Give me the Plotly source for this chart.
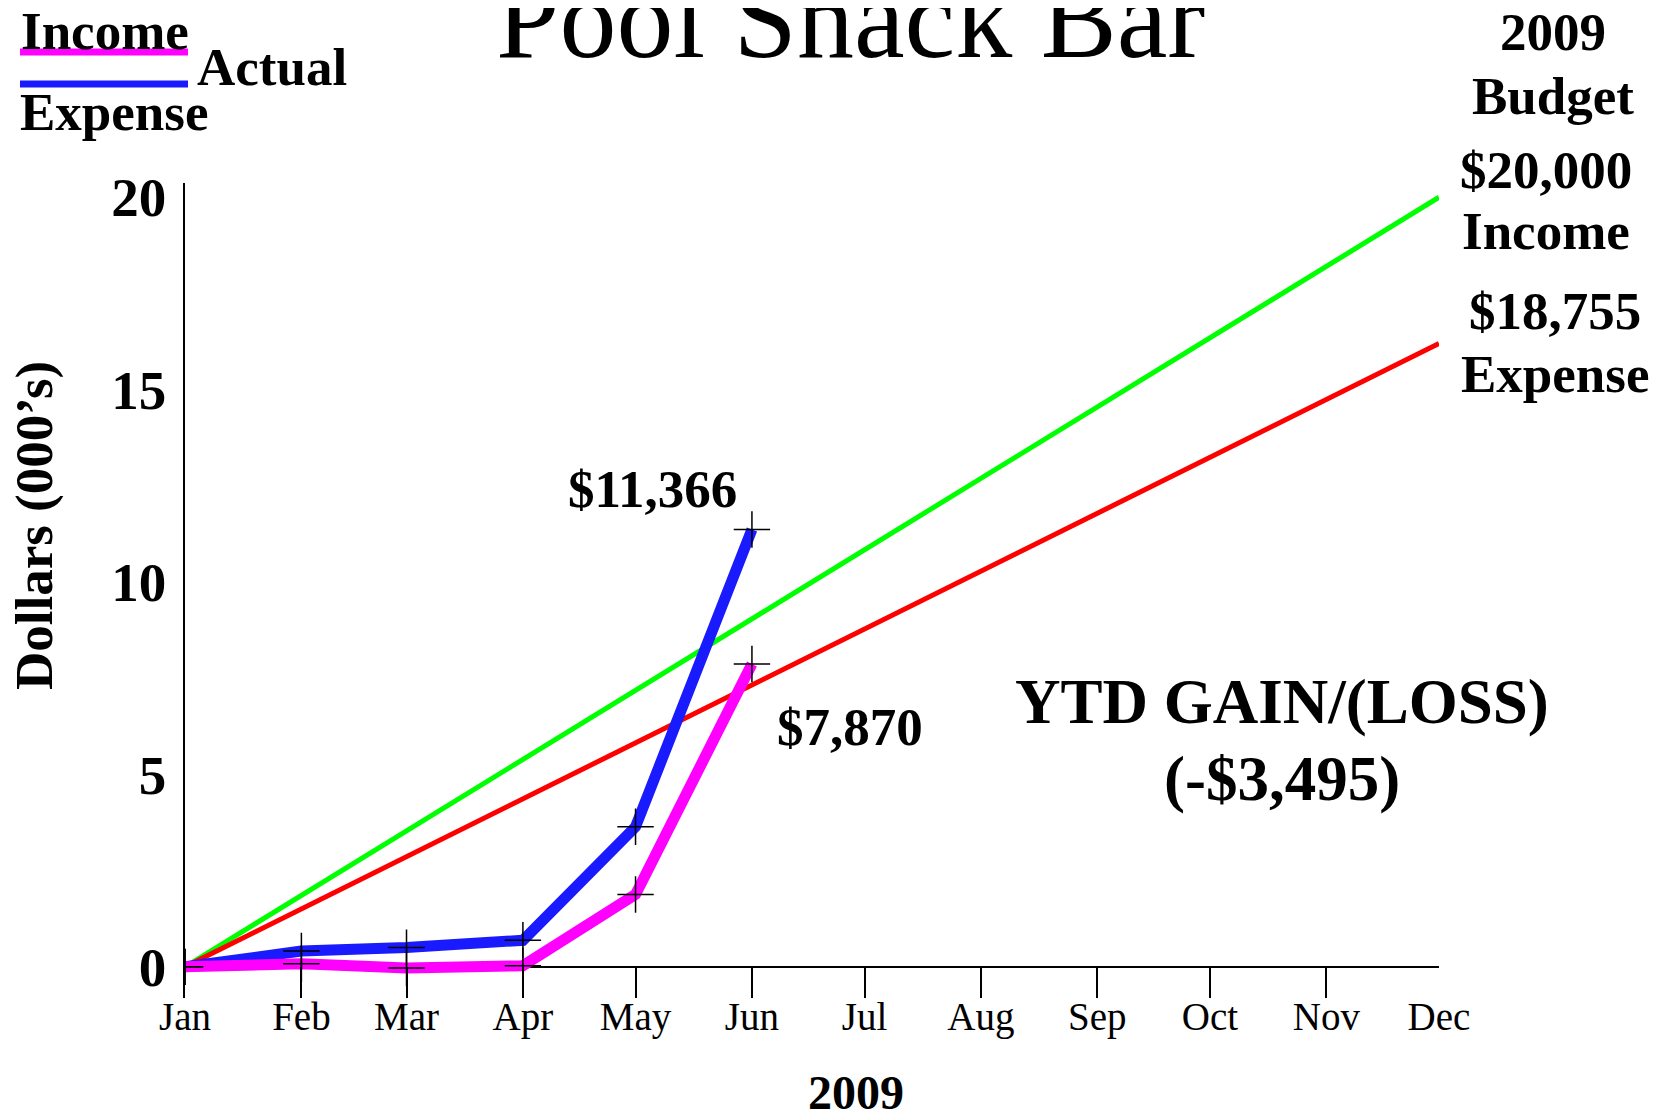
"""Pool Snack Bar: 2009 budget vs actual income and expense."""

import plotly.graph_objects as go

# months of 2009 (first of month), x axis is a date axis
months = ['2009-01-01', '2009-02-01', '2009-03-01', '2009-04-01', '2009-05-01', '2009-06-01']
tick_dates = ['2009-%02d-01' % m for m in range(1, 13)]
tick_labels = ['Jan', 'Feb', 'Mar', 'Apr', 'May', 'Jun',
               'Jul', 'Aug', 'Sep', 'Oct', 'Nov', 'Dec']

# budget lines (thousands of dollars), start and end of year
budget_dates = ['2009-01-01', '2009-12-01']
budget_income = [0, 20.0]
budget_expense = [0, 16.2]

# actuals (thousands of dollars)
actual_expense = [0, 0.41, 0.50, 0.69, 3.64, 11.366]
actual_income = [0, 0.08, -0.03, 0.03, 1.88, 7.87]

W, H = 1665, 1112
OFF = 8  # page body margin
# plot area in page pixels
L, R, T, B = 185, 1439, 183, 998
FONT = 'Liberation Serif'


def px(x):
    return (x - L) / (R - L)


def py(y):
    return (B - y) / (B - T)


fig = go.Figure()

fig.add_trace(go.Scatter(x=budget_dates, y=budget_income, mode='lines',
                         line=dict(color='#00ff00', width=5)))
fig.add_trace(go.Scatter(x=budget_dates, y=budget_expense, mode='lines',
                         line=dict(color='#ff0000', width=5)))
fig.add_trace(go.Scatter(x=months, y=actual_expense, mode='lines',
                         line=dict(color='#1a1aff', width=11)))
fig.add_trace(go.Scatter(x=months, y=actual_income, mode='lines',
                         line=dict(color='#ff00ff', width=11)))

# small crosshair markers on the actual data points
for ys in (actual_expense, actual_income):
    fig.add_trace(go.Scatter(x=months, y=ys, mode='markers',
                             marker=dict(symbol='cross-thin', size=26,
                                         line=dict(color='black', width=1.5))))

ann = []


def label(text, x, y, size=53, bold=True, **kw):
    t = '<b>%s</b>' % text if bold else text
    d = dict(text=t, x=px(x), y=py(y), xref='paper', yref='paper',
             xanchor='center', yanchor='middle', showarrow=False,
             font=dict(family=FONT, size=size, color='black'))
    d.update(kw)
    ann.append(d)


label('Pool Snack Bar', 850, 18, size=114, bold=False)
label('Income', 105, 31)
label('Actual', 195, 67, xanchor='left')
label('Expense', 18, 112, xanchor='left')
label('2009', 1553, 32)
label('Budget', 1553, 96)
label('$20,000', 1546, 170)
label('Income', 1546, 231)
label('$18,755', 1555, 311)
label('Expense', 1555, 374)
label('$11,366', 652, 489)
label('$7,870', 850, 727)
label('YTD GAIN/(LOSS)', 1282, 702, size=63)
label('(-$3,495)', 1282, 779, size=63)
label('2009', 856, 1092, size=48)
label('Dollars (000’s)', 34, 526, textangle=-90)

shapes = [
    dict(type='line', xref='paper', yref='paper', x0=px(20), x1=px(188),
         y0=py(52), y1=py(52), line=dict(color='#ff00ff', width=7)),
    dict(type='line', xref='paper', yref='paper', x0=px(20), x1=px(188),
         y0=py(84), y1=py(84), line=dict(color='#1a1aff', width=7)),
]

fig.update_layout(
    width=W, height=H,
    margin=dict(l=L - OFF, r=W - R + OFF, t=T - OFF, b=H - B + OFF),
    plot_bgcolor='white', paper_bgcolor='white',
    showlegend=False,
    annotations=ann, shapes=shapes,
    xaxis=dict(type='date', range=['2009-01-01', '2009-12-01'],
               tickvals=tick_dates, ticktext=tick_labels,
               ticks='inside', ticklen=31, tickwidth=1.5, tickcolor='black',
               ticklabelstandoff=-8,
               showgrid=False, showline=False, zeroline=False,
               tickfont=dict(family=FONT, size=39, color='black')),
    yaxis=dict(range=[-0.81, 20.37], tickvals=[0, 5, 10, 15, 20],
               ticktext=['<b>%d</b>' % v for v in [0, 5, 10, 15, 20]],
               showgrid=False, showline=True, linecolor='black', linewidth=1.5,
               zeroline=True, zerolinecolor='black', zerolinewidth=1.5,
               ticks='', ticklabelstandoff=6,
               tickfont=dict(family=FONT, size=55, color='black')),
)

fig.write_html('out.html')
